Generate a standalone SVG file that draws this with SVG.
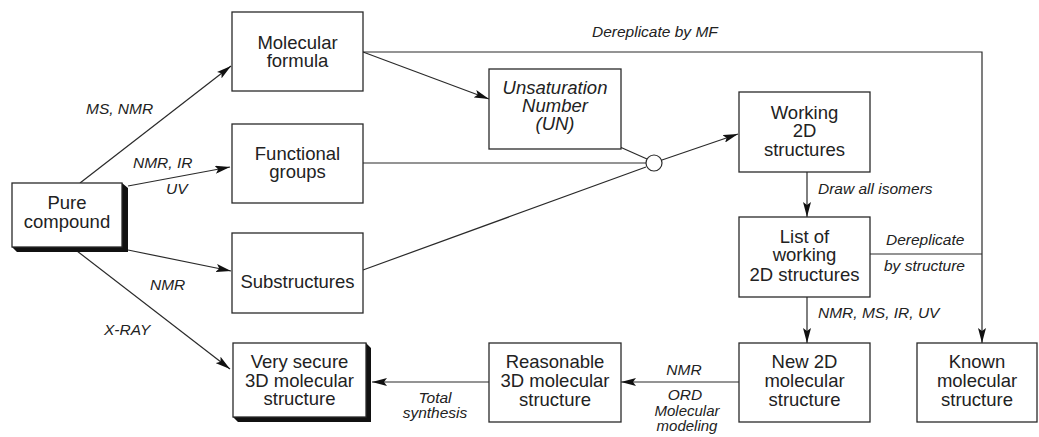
<svg xmlns="http://www.w3.org/2000/svg" width="1039" height="437" viewBox="0 0 1039 437">
<style>
  .box { fill: #fff; stroke: #2a2a2a; stroke-width: 1.3; }
  .shadow { fill: #111; stroke: none; }
  .bt { font-family: "Liberation Sans", Arial, sans-serif; font-size: 18.5px; fill: #222; text-anchor: middle; }
  .it { font-style: italic; }
  .lb { font-family: "Liberation Sans", Arial, sans-serif; font-size: 15.5px; font-style: italic; fill: #222; }
  .c { text-anchor: middle; }
  .ln { fill: none; stroke: #2a2a2a; stroke-width: 1.2; }
  .ar { marker-end: url(#arrow); }
</style>
<defs>
  <marker id="arrow" viewBox="0 0 15 8" refX="15" refY="4" markerWidth="15" markerHeight="8" orient="auto" markerUnits="userSpaceOnUse">
    <path d="M0,0 L15,4 L0,8 L3,4 Z" fill="#111"/>
  </marker>
</defs>
<rect width="1039" height="437" fill="#fff"/>

<g id="connectors">
  <line class="ln ar" x1="80" y1="183" x2="231" y2="66"/>
  <line class="ln ar" x1="128" y1="186" x2="230" y2="167"/>
  <line class="ln ar" x1="128" y1="250" x2="231" y2="271"/>
  <line class="ln ar" x1="77" y1="251" x2="230" y2="369"/>
  <line class="ln ar" x1="363" y1="52" x2="489" y2="99"/>
  <polyline class="ln ar" points="363,52 982,52 982,343"/>
  <line class="ln" x1="363" y1="163" x2="646" y2="163"/>
  <line class="ln" x1="620" y1="147" x2="647" y2="159"/>
  <line class="ln" x1="363" y1="270" x2="646" y2="167"/>
  <line class="ln ar" x1="662" y1="160" x2="738" y2="134"/>
  <line class="ln ar" x1="807" y1="172" x2="807" y2="217"/>
  <line class="ln ar" x1="807" y1="297" x2="807" y2="343"/>
  <line class="ln" x1="870" y1="254" x2="982" y2="254"/>
  <line class="ln ar" x1="739" y1="382" x2="621" y2="382"/>
  <line class="ln ar" x1="489" y1="382" x2="372" y2="382"/>
  <circle cx="654" cy="163" r="8" fill="#fff" stroke="#2a2a2a" stroke-width="1.2"/>
</g>

<g id="labels">
  <text class="lb" x="86" y="114">MS, NMR</text>
  <text class="lb" x="133" y="168">NMR, IR</text>
  <text class="lb" x="166" y="194">UV</text>
  <text class="lb" x="150" y="290">NMR</text>
  <text class="lb" x="104" y="335">X-RAY</text>
  <text class="lb" x="592" y="37">Dereplicate by MF</text>
  <text class="lb" x="818" y="194">Draw all isomers</text>
  <text class="lb" x="886" y="245">Dereplicate</text>
  <text class="lb" x="884" y="271">by structure</text>
  <text class="lb" x="818" y="318">NMR, MS, IR, UV</text>
  <text class="lb c" x="435" y="403">Total</text>
  <text class="lb c" x="435" y="418">synthesis</text>
  <text class="lb c" x="684" y="375">NMR</text>
  <text class="lb c" x="685" y="400">ORD</text>
  <text class="lb c" x="687" y="416" style="font-size:15px">Molecular</text>
  <text class="lb c" x="687" y="431" style="font-size:15px">modeling</text>
</g>

<g id="pure">
  <polygon class="shadow" points="122,183 128,188 128,252 17,252 12,247 122,247"/>
  <rect class="box" x="12" y="183" width="110" height="64"/>
  <text class="bt" x="67" y="209">Pure</text>
  <text class="bt" x="67" y="228">compound</text>
</g>
<g id="molform">
  <rect class="box" x="232" y="12" width="131" height="79"/>
  <text class="bt" x="297.5" y="49">Molecular</text>
  <text class="bt" x="297.5" y="67">formula</text>
</g>
<g id="funcgroups">
  <rect class="box" x="232" y="124" width="131" height="79"/>
  <text class="bt" x="297.5" y="160">Functional</text>
  <text class="bt" x="297.5" y="178">groups</text>
</g>
<g id="substructures">
  <rect class="box" x="232" y="233" width="131" height="80"/>
  <text class="bt" x="297.5" y="288">Substructures</text>
</g>
<g id="verysecure">
  <polygon class="shadow" points="366,343 371,348 371,422 238,422 233,417 366,417"/>
  <rect class="box" x="233" y="343" width="133" height="74"/>
  <text class="bt" x="299.5" y="368">Very secure</text>
  <text class="bt" x="299.5" y="387">3D molecular</text>
  <text class="bt" x="299.5" y="405">structure</text>
</g>
<g id="un">
  <rect class="box" x="489" y="69" width="132" height="80"/>
  <text class="bt it" x="555" y="94">Unsaturation</text>
  <text class="bt it" x="555" y="112">Number</text>
  <text class="bt it" x="555" y="130">(UN)</text>
</g>
<g id="reasonable">
  <rect class="box" x="489" y="343" width="132" height="79"/>
  <text class="bt" x="555" y="368">Reasonable</text>
  <text class="bt" x="555" y="387">3D molecular</text>
  <text class="bt" x="555" y="406">structure</text>
</g>
<g id="working">
  <rect class="box" x="739" y="92" width="131" height="80"/>
  <text class="bt" x="804.5" y="119">Working</text>
  <text class="bt" x="804.5" y="137">2D</text>
  <text class="bt" x="804.5" y="156">structures</text>
</g>
<g id="listworking">
  <rect class="box" x="739" y="217" width="131" height="80"/>
  <text class="bt" x="804.5" y="243">List of</text>
  <text class="bt" x="804.5" y="261">working</text>
  <text class="bt" x="804.5" y="281">2D structures</text>
</g>
<g id="new2d">
  <rect class="box" x="739" y="343" width="131" height="79"/>
  <text class="bt" x="804.5" y="368">New 2D</text>
  <text class="bt" x="804.5" y="387">molecular</text>
  <text class="bt" x="804.5" y="406">structure</text>
</g>
<g id="known">
  <rect class="box" x="917" y="343" width="120" height="79"/>
  <text class="bt" x="977" y="368">Known</text>
  <text class="bt" x="977" y="387">molecular</text>
  <text class="bt" x="977" y="406">structure</text>
</g>
</svg>
